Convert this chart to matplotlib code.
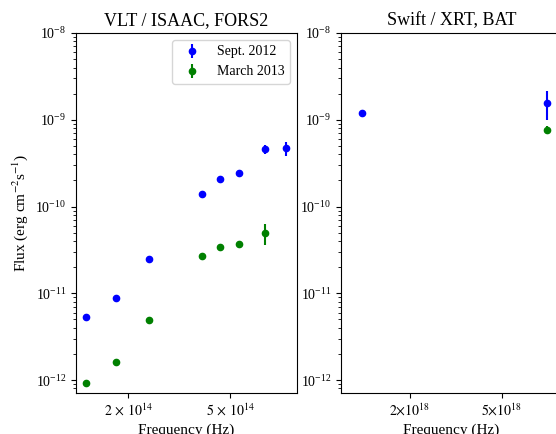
import matplotlib
matplotlib.use("Agg")
from matplotlib import pyplot as plt
from matplotlib.ticker import FixedLocator, FixedFormatter, NullLocator

plt.rcParams['font.family'] = ['Liberation Serif', 'DejaVu Serif']
plt.rcParams['mathtext.fontset'] = 'stix'

# optical / NIR (VLT)
opt_freq = [1.37e14, 1.79e14, 2.41e14, 3.9e14, 4.57e14, 5.41e14, 6.87e14, 8.3e14]
sep_opt_flux = [5.3e-12, 8.8e-12, 2.48e-11, 1.39e-10, 2.08e-10, 2.42e-10, 4.57e-10, 4.7e-10]
sep_opt_err = [0.4e-12, 0.3e-12, 0.6e-12, 0.4e-11, 0.5e-11, 0.5e-11, 0.5e-10, 0.9e-10]

mar_opt_freq = [1.37e14, 1.79e14, 2.41e14, 3.9e14, 4.57e14, 5.41e14, 6.87e14]
mar_opt_flux = [9.2e-13, 1.61e-12, 4.9e-12, 2.68e-11, 3.38e-11, 3.66e-11, 4.93e-11]
mar_opt_err = [0.4e-13, 0.6e-13, 0.2e-12, 0.1e-11, 0.1e-11, 0.1e-11, 1.3e-11]

# X-ray (Swift)
sep_x_freq = [1.25e18, 7.8e18]
sep_x_flux = [1.2e-9, 1.58e-9]
sep_x_err = [0.08e-9, 0.58e-9]

mar_x_freq = [7.8e18]
mar_x_flux = [7.67e-10]
mar_x_err = [0.8e-10]

fig = plt.figure(figsize=(5.56, 4.34), dpi=100)
ax1 = fig.add_axes([0.1367, 0.0945, 0.3975, 0.8295])
ax2 = fig.add_axes([0.6133, 0.0945, 0.3975, 0.8295])

ax1.errorbar(opt_freq, sep_opt_flux, yerr=sep_opt_err, fmt='o', color='b', ms=4.5, elinewidth=1.5, label='Sept. 2012')
ax1.errorbar(mar_opt_freq, mar_opt_flux, yerr=mar_opt_err, fmt='o', color='g', ms=4.5, elinewidth=1.5, label='March 2013')
ax2.errorbar(sep_x_freq, sep_x_flux, yerr=sep_x_err, fmt='o', color='b', ms=4.5, elinewidth=1.5)
ax2.errorbar(mar_x_freq, mar_x_flux, yerr=mar_x_err, fmt='o', color='g', ms=4.5, elinewidth=1.5)

for ax in (ax1, ax2):
    ax.set_xscale('log')
    ax.set_yscale('log')
    ax.set_ylim(7.1e-13, 1e-8)
    ax.set_xlabel('Frequency (Hz)', fontsize=11, labelpad=3)
    ax.tick_params(labelsize=10)
    ax.xaxis.set_minor_locator(NullLocator())

ax1.set_xlim(1.25e14, 9.15e14)
ax1.xaxis.set_major_locator(FixedLocator([2e14, 5e14]))
ax1.xaxis.set_major_formatter(FixedFormatter([r'$2\,\times\,10^{14}$', r'$5\,\times\,10^{14}$']))
ax2.set_xlim(1.01e18, 9.1e18)
ax2.xaxis.set_major_locator(FixedLocator([2e18, 5e18]))
ax2.xaxis.set_major_formatter(FixedFormatter([r'$2{\times}10^{18}$', r'$5{\times}10^{18}$']))

ax1.set_title('VLT / ISAAC, FORS2', fontsize=13)
ax2.set_title('Swift / XRT, BAT', fontsize=13)
ax1.set_ylabel(r'Flux (erg cm$^{-2}$s$^{-1}$)', fontsize=11)
ax1.legend(loc='upper right', fontsize=10)

plt.savefig('out.png', dpi=100)
